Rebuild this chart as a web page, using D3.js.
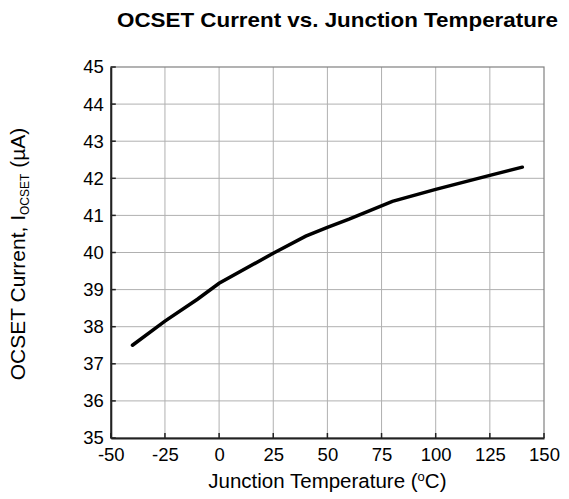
<!DOCTYPE html>
<html><head><meta charset="utf-8">
<script src="https://cdn.jsdelivr.net/npm/d3@7"></script>
<style>body{margin:0;background:#fff}svg{display:block}text{font-family:"Liberation Sans",Arial,sans-serif}</style>
</head><body>
<svg id="c" width="569" height="499"></svg>
<script>
const temps = [-40, -25, -10, 0, 25, 40, 50, 60, 80, 100, 125, 140];
const current = [37.5, 38.15, 38.74, 39.17, 39.98, 40.44, 40.68, 40.9, 41.38, 41.7, 42.08, 42.3];
const xTicks = [-50, -25, 0, 25, 50, 75, 100, 125, 150];
const yTicks = [35, 36, 37, 38, 39, 40, 41, 42, 43, 44, 45];

const svg = d3.select("#c");
const L = 110.8, R = 544, T = 67, B = 438;
const x = d3.scaleLinear().domain([-50, 150]).range([L, R]);
const y = d3.scaleLinear().domain([35, 45]).range([B, T]);

// grid
svg.append("g").selectAll("line").data(xTicks.slice(1, -1)).join("line")
  .attr("x1", d => x(d)).attr("x2", d => x(d)).attr("y1", T).attr("y2", B)
  .attr("stroke", "#b0b0b0").attr("stroke-width", 1);
svg.append("g").selectAll("line").data(yTicks.slice(1, -1)).join("line")
  .attr("x1", L).attr("x2", R).attr("y1", d => y(d)).attr("y2", d => y(d))
  .attr("stroke", "#b0b0b0").attr("stroke-width", 1);
// frame
svg.append("rect").attr("x", L).attr("y", T).attr("width", R - L).attr("height", B - T)
  .attr("fill", "none").attr("stroke", "#808080").attr("stroke-width", 1.2);

const fmt = d => String(d);
// axes
const xa = svg.append("g").attr("transform", `translate(0,${B})`)
  .call(d3.axisBottom(x).tickValues(xTicks).tickSize(0).tickPadding(5).tickFormat(fmt));
xa.select(".domain").attr("stroke", "#222").attr("stroke-width", 2);
xa.selectAll("text").attr("font-size", 18.5).attr("fill", "#000").attr("y", 0).attr("dy", null)
  .attr("transform", "translate(0,22.7)");
svg.append("g").selectAll("line").data(xTicks).join("line")
  .attr("x1", d => x(d)).attr("x2", d => x(d)).attr("y1", B).attr("y2", B - 5)
  .attr("stroke", "#222").attr("stroke-width", 1.5);

const ya = svg.append("g").attr("transform", `translate(${L},0)`)
  .call(d3.axisLeft(y).tickValues(yTicks).tickSize(0).tickPadding(7).tickFormat(fmt));
ya.select(".domain").attr("stroke", "#222").attr("stroke-width", 2);
ya.selectAll("text").attr("font-size", 18.5).attr("fill", "#000");
svg.append("g").selectAll("line").data(yTicks).join("line")
  .attr("x1", L).attr("x2", L + 5).attr("y1", d => y(d)).attr("y2", d => y(d))
  .attr("stroke", "#222").attr("stroke-width", 1.5);

// line
svg.append("path").datum(temps.map((t, i) => [t, current[i]]))
  .attr("d", d3.line().x(d => x(d[0])).y(d => y(d[1])))
  .attr("fill", "none").attr("stroke", "#000").attr("stroke-width", 3.5).attr("stroke-linecap", "round");

// title
svg.append("text").attr("x", 337.5).attr("y", 27).attr("text-anchor", "middle")
  .attr("font-size", 21).attr("font-weight", "bold")
  .attr("textLength", 441).attr("lengthAdjust", "spacingAndGlyphs")
  .text("OCSET Current vs. Junction Temperature");

// x label
const xl = svg.append("text").attr("x", (L + R) / 2).attr("y", 488).attr("text-anchor", "middle").attr("font-size", 20.5);
xl.append("tspan").text("Junction Temperature (");
xl.append("tspan").attr("font-size", 13).attr("dy", -7).text("o");
xl.append("tspan").attr("dy", 7).text("C)");

// y label
const yl = svg.append("text").attr("transform", `translate(25,254) rotate(-90)`)
  .attr("text-anchor", "middle").attr("font-size", 21);
yl.append("tspan").text("OCSET Current, I");
yl.append("tspan").attr("font-size", 12).attr("dy", 4).text("OCSET");
yl.append("tspan").attr("dy", -4).text(" (µA)");
</script>
</body></html>
